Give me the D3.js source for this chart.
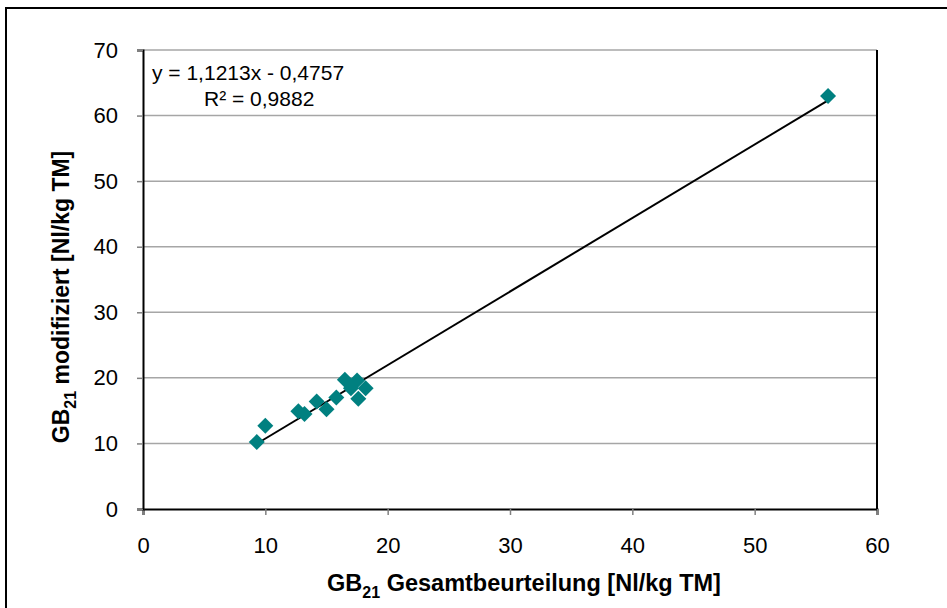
<!DOCTYPE html>
<html>
<head>
<meta charset="utf-8">
<script src="https://d3js.org/d3.v7.min.js"></script>
<style>
  body { margin: 0; background: #fff; }
  text { font-family: "Liberation Sans", Arial, sans-serif; }
</style>
</head>
<body>
<svg id="svg" width="947" height="608"></svg>
<script>
// data
var gesamt = [9.3, 10.0, 12.7, 13.2, 14.2, 15.0, 15.8, 16.5, 17.0, 17.5, 17.6, 18.2, 56.0];
var modif  = [10.2, 12.7, 14.9, 14.5, 16.4, 15.2, 17.0, 19.7, 18.4, 19.6, 16.8, 18.4, 63.0];
var xTicks = [0, 10, 20, 30, 40, 50, 60];
var yTicks = [0, 10, 20, 30, 40, 50, 60, 70];
var slope = 1.1213, intercept = -0.4757;
var eqLines = ["y = 1,1213x - 0,4757", "R\u00b2 = 0,9882"];

var svg = d3.select("svg");
var plotL = 143, plotR = 877, plotT = 50, plotB = 509;

var x = d3.scaleLinear().domain([0, 60]).range([plotL, plotR]);
var y = d3.scaleLinear().domain([0, 70]).range([plotB, plotT]);

// outer frame
svg.append("rect")
  .attr("x", 6).attr("y", 8).attr("width", 1000).attr("height", 700)
  .attr("fill", "none").attr("stroke", "#000").attr("stroke-width", 2);

// gridlines
svg.append("g")
  .selectAll("line")
  .data(yTicks.filter(function(d){ return d > 0; }))
  .enter().append("line")
  .attr("x1", plotL).attr("x2", plotR)
  .attr("y1", function(d){ return y(d); })
  .attr("y2", function(d){ return y(d); })
  .attr("stroke", "#a6a6a6").attr("stroke-width", 1.5);

// right border of plot area
svg.append("line")
  .attr("x1", plotR).attr("x2", plotR).attr("y1", plotT).attr("y2", plotB)
  .attr("stroke", "#000").attr("stroke-width", 2);

// axes
var xAxis = svg.append("g")
  .attr("transform", "translate(0," + plotB + ")")
  .call(d3.axisBottom(x).tickValues(xTicks).tickSize(6).tickPadding(22));
var yAxis = svg.append("g")
  .attr("transform", "translate(" + plotL + ",0)")
  .call(d3.axisLeft(y).tickValues(yTicks).tickSize(6).tickPadding(19));

[xAxis, yAxis].forEach(function(a){
  a.select(".domain").attr("stroke", "#000").attr("stroke-width", 2);
  a.selectAll(".tick line").attr("stroke", "#808080").attr("stroke-width", 1.5);
  a.selectAll(".tick text")
    .attr("fill", "#000")
    .style("font-size", "22px")
    .style("font-family", "'Liberation Sans', Arial, sans-serif");
});
xAxis.selectAll(".tick text").attr("dy", "0.71em");

// trend line
var xs = d3.extent(gesamt);
svg.append("line")
  .attr("x1", x(xs[0])).attr("y1", y(slope * xs[0] + intercept))
  .attr("x2", x(xs[1])).attr("y2", y(slope * xs[1] + intercept))
  .attr("stroke", "#000").attr("stroke-width", 2);

// points
var pts = gesamt.map(function(v, i){ return [v, modif[i]]; });
svg.append("g")
  .selectAll("path")
  .data(pts)
  .enter().append("path")
  .attr("d", "M0,-8L8,0L0,8L-8,0Z")
  .attr("transform", function(d){ return "translate(" + x(d[0]) + "," + y(d[1]) + ")"; })
  .attr("fill", "#008080");

// equation
svg.append("text")
  .attr("x", 152).attr("y", 80)
  .style("font-size", "21px")
  .text(eqLines[0]);
svg.append("text")
  .attr("x", 204).attr("y", 106)
  .style("font-size", "21px")
  .text(eqLines[1]);

// axis titles
var xt = svg.append("text")
  .attr("x", 524).attr("y", 591)
  .attr("text-anchor", "middle")
  .style("font-size", "23.5px").style("font-weight", "bold");
xt.append("tspan").text("GB");
xt.append("tspan").attr("dy", 7).style("font-size", "16px").text("21");
xt.append("tspan").attr("dy", -7).text(" Gesamtbeurteilung [Nl/kg TM]");

var yt = svg.append("text")
  .attr("transform", "translate(69,297) rotate(-90)")
  .attr("text-anchor", "middle")
  .style("font-size", "23px").style("font-weight", "bold");
yt.append("tspan").text("GB");
yt.append("tspan").attr("dy", 7).style("font-size", "16px").text("21");
yt.append("tspan").attr("dy", -7).text(" modifiziert [Nl/kg TM]");
</script>
</body>
</html>
